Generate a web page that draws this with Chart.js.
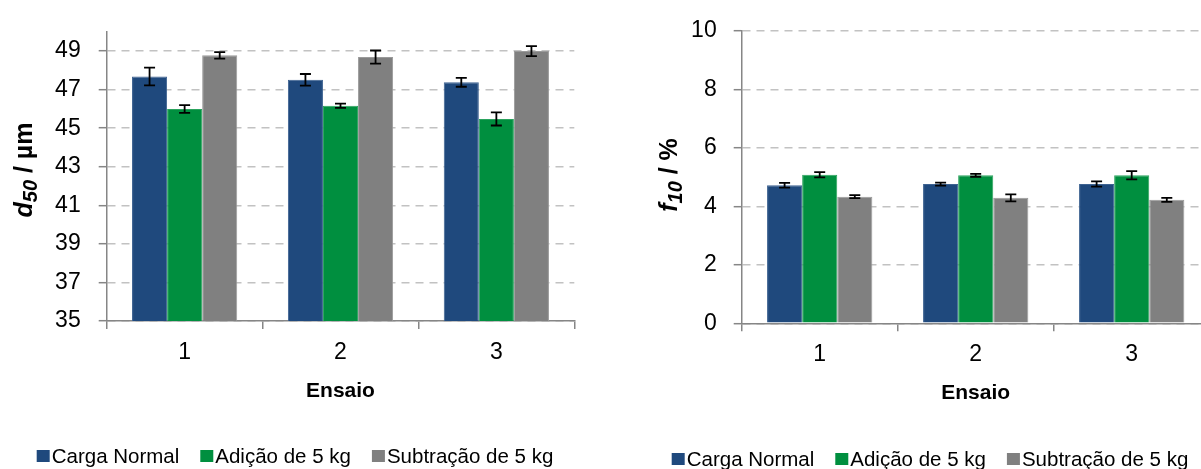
<!DOCTYPE html>
<html>
<head>
<meta charset="utf-8">
<script src="https://cdn.jsdelivr.net/npm/chart.js@4.4.0/dist/chart.umd.min.js"></script>
<style>
  html, body { margin: 0; padding: 0; background: #fff; overflow: hidden; width: 1201px; height: 469px; }
  .panel { position: absolute; top: 0; width: 590px; height: 469px; }
  #p1 { left: 0; }
  #p2 { left: 635px; }
</style>
</head>
<body>
<div class="panel" id="p1"><canvas id="c1"></canvas></div>
<div class="panel" id="p2"><canvas id="c2"></canvas></div>
<script>
// Trials and series
const categories = ['1', '2', '3'];
const seriesNames = ['Carga Normal', 'Adição de 5 kg', 'Subtração de 5 kg'];
const seriesColors = ['#1F497D', '#008F3F', '#808080'];
const seriesBorders = ['#3D6291', '#2BA35E', '#9A9A9A'];

// d50 (µm): mean and standard deviation per trial
const d50Normal = [47.68, 47.51, 47.38];
const d50Adicao = [46.00, 46.16, 45.48];
const d50Subtracao = [48.78, 48.69, 49.00];
const d50NormalErr = [0.46, 0.30, 0.23];
const d50AdicaoErr = [0.20, 0.11, 0.34];
const d50SubtracaoErr = [0.17, 0.34, 0.26];
const d50Ticks = [35, 37, 39, 41, 43, 45, 47, 49];

// f10 (%): mean and standard deviation per trial
const f10Normal = [4.72, 4.76, 4.76];
const f10Adicao = [5.08, 5.06, 5.06];
const f10Subtracao = [4.33, 4.29, 4.22];
const f10NormalErr = [0.08, 0.05, 0.09];
const f10AdicaoErr = [0.09, 0.05, 0.14];
const f10SubtracaoErr = [0.05, 0.12, 0.07];
const f10Ticks = [0, 2, 4, 6, 8, 10];

const FONT = '"Liberation Sans", Arial, sans-serif';
const AXIS_GREY = '#868686';

// Error bars drawn from each bar element and the value scale
const errorBars = {
  id: 'errorBars',
  afterDatasetsDraw(chart) {
    const ctx = chart.ctx;
    const yScale = chart.scales.y;
    ctx.save();
    ctx.strokeStyle = '#000';
    ctx.lineWidth = 1.8;
    chart.data.datasets.forEach((ds, i) => {
      const meta = chart.getDatasetMeta(i);
      meta.data.forEach((bar, j) => {
        const v = ds.data[j], e = ds.errors[j];
        const yHi = yScale.getPixelForValue(v + e);
        const yLo = yScale.getPixelForValue(v - e);
        const x = bar.x, cap = 5.5;
        ctx.beginPath();
        ctx.moveTo(x, yHi); ctx.lineTo(x, yLo);
        ctx.moveTo(x - cap, yHi); ctx.lineTo(x + cap, yHi);
        ctx.moveTo(x - cap, yLo); ctx.lineTo(x + cap, yLo);
        ctx.stroke();
      });
    });
    ctx.restore();
  }
};

// Axis titles (with subscripts) and the legend row
const decorations = {
  id: 'decorations',
  afterDraw(chart, args, o) {
    const ctx = chart.ctx;
    const area = chart.chartArea;
    ctx.save();
    ctx.fillStyle = '#000';

    // rotated y title
    const segs = o.yTitle;
    let w = 0;
    segs.forEach(s => { ctx.font = s.font; w += ctx.measureText(s.text).width; });
    ctx.translate(o.yTitleBaseX, o.yTitleCenterY);
    ctx.rotate(-Math.PI / 2);
    ctx.textBaseline = 'alphabetic';
    ctx.textAlign = 'left';
    let x = -w / 2;
    segs.forEach(s => {
      ctx.font = s.font;
      ctx.fillText(s.text, x, s.dy || 0);
      x += ctx.measureText(s.text).width;
    });
    ctx.setTransform(1, 0, 0, 1, 0, 0);
    ctx.restore();

    ctx.save();
    ctx.fillStyle = '#000';
    // x title
    ctx.font = 'bold 21px ' + FONT;
    ctx.textAlign = 'center';
    ctx.textBaseline = 'alphabetic';
    ctx.fillText(o.xTitle, (area.left + area.right) / 2, area.bottom + o.xTitleOffset);

    // legend
    ctx.font = '20.5px ' + FONT;
    ctx.textAlign = 'left';
    const box = 13, gapText = 2, gapItem = 21;
    const items = chart.data.datasets.map(ds => ({
      label: ds.label, color: ds.backgroundColor, w: ctx.measureText(ds.label).width
    }));
    let total = 0;
    items.forEach((it, k) => { total += box + gapText + it.w + (k < items.length - 1 ? gapItem : 0); });
    let lx = chart.width / 2 - total / 2;
    const base = o.legendBaseline;
    items.forEach(it => {
      ctx.fillStyle = it.color;
      ctx.fillRect(lx, base - 13, box, box - 1);
      ctx.fillStyle = '#000';
      ctx.fillText(it.label, lx + box + gapText, base);
      lx += box + gapText + it.w + gapItem;
    });
    ctx.restore();
  }
};

function makeChart(id, cfg) {
  const datasets = cfg.values.map((vals, i) => ({
    label: seriesNames[i],
    data: vals,
    errors: cfg.errors[i],
    backgroundColor: seriesColors[i],
    borderColor: seriesBorders[i],
    borderWidth: 1,
    categoryPercentage: 0.675,
    barPercentage: 1.0
  }));
  return new Chart(document.getElementById(id), {
    type: 'bar',
    data: { labels: categories, datasets },
    options: {
      responsive: true,
      maintainAspectRatio: false,
      animation: false,
      layout: { padding: { top: cfg.top, right: cfg.right, left: 0, bottom: 0 } },
      plugins: {
        legend: { display: false },
        tooltip: { enabled: false },
        decorations: cfg.deco
      },
      scales: {
        x: {
          grid: { drawOnChartArea: false, drawTicks: true, tickLength: 8, color: AXIS_GREY, lineWidth: 1.5 },
          border: { color: AXIS_GREY, width: 1.5 },
          ticks: { font: { family: FONT, size: 23 }, color: '#000', padding: 10 },
          afterFit: s => { s.height = cfg.xHeight; }
        },
        y: {
          min: cfg.min,
          max: cfg.max,
          grid: { color: '#C2C2C2', lineWidth: 1.4, tickLength: 8, tickColor: AXIS_GREY, tickWidth: 1.5, tickBorderDash: [] },
          border: { color: AXIS_GREY, width: 1.5, dash: [8, 6] },
          ticks: { font: { family: FONT, size: 23 }, color: '#000', padding: cfg.yPad },
          afterBuildTicks: a => { a.ticks = cfg.ticks.map(v => ({ value: v })); },
          afterFit: s => { s.width = cfg.yWidth; }
        }
      }
    },
    plugins: [errorBars, decorations]
  });
}

makeChart('c1', {
  values: [d50Normal, d50Adicao, d50Subtracao],
  errors: [d50NormalErr, d50AdicaoErr, d50SubtracaoErr],
  ticks: d50Ticks, min: 35, max: 50,
  top: 26.7, right: 15.7, xHeight: 148, yWidth: 106.7, yPad: 18,
  deco: {
    yTitle: [
      { text: 'd', font: 'italic bold 25px ' + FONT },
      { text: '50', font: 'italic bold 20px ' + FONT, dy: 5 },
      { text: ' / µm', font: 'bold 25px ' + FONT }
    ],
    yTitleBaseX: 32, yTitleCenterY: 170,
    xTitle: 'Ensaio', xTitleOffset: 75.5,
    legendBaseline: 463
  }
});

makeChart('c2', {
  values: [f10Normal, f10Adicao, f10Subtracao],
  errors: [f10NormalErr, f10AdicaoErr, f10SubtracaoErr],
  ticks: f10Ticks, min: 0, max: 10,
  top: 25.7, right: 15.3, xHeight: 145.7, yWidth: 106.7, yPad: 17,
  deco: {
    yTitle: [
      { text: 'f', font: 'italic bold 25px ' + FONT },
      { text: '10', font: 'italic bold 20px ' + FONT, dy: 5 },
      { text: ' / %', font: 'bold 25px ' + FONT }
    ],
    yTitleBaseX: 41.5, yTitleCenterY: 175,
    xTitle: 'Ensaio', xTitleOffset: 75.7,
    legendBaseline: 466
  }
});
</script>
</body>
</html>
